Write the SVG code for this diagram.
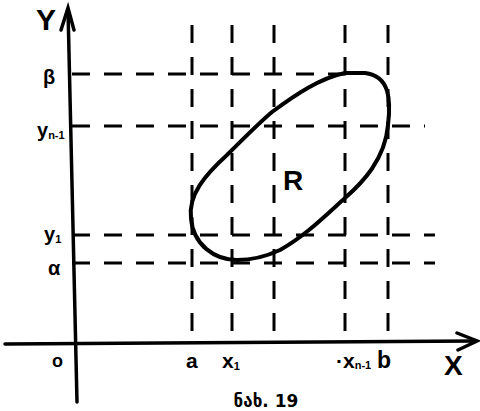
<svg xmlns="http://www.w3.org/2000/svg" width="480" height="411" viewBox="0 0 480 411">
<style>
.dash{stroke:#000;stroke-width:3;stroke-dasharray:18 14;fill:none}
.axis{stroke:#000;stroke-width:3.5;fill:none;stroke-linecap:round}
.lbl{font-family:"Liberation Sans",Arial,sans-serif;font-weight:bold;fill:#000}
.sub{font-family:"Liberation Sans",Arial,sans-serif;font-weight:bold;fill:#000;font-size:11px}
</style>
<rect width="480" height="411" fill="#fff"/>
<g id="grid">
<line class="dash" x1="192" y1="25" x2="192" y2="342"/>
<line class="dash" x1="232" y1="25" x2="232" y2="342"/>
<line class="dash" x1="274" y1="25" x2="274" y2="342"/>
<line class="dash" x1="345" y1="25" x2="345" y2="342"/>
<line class="dash" x1="388" y1="25" x2="388" y2="342"/>
<line class="dash" x1="72" y1="74" x2="352" y2="74"/>
<line class="dash" x1="72" y1="126" x2="425" y2="126"/>
<line class="dash" x1="72" y1="235" x2="435" y2="235"/>
<line class="dash" x1="72" y1="263" x2="435" y2="263"/>
</g>
<g id="axes">
<line class="axis" x1="77" y1="402" x2="68" y2="9"/>
<polyline class="axis" points="61,30 68,8 74,30"/>
<line class="axis" x1="5" y1="344" x2="474" y2="341"/>
<polyline class="axis" points="457,333 477,341 458,350"/>
</g>
<g id="region-R">
<path d="M191,218 C188,195 205,175 227,155 C245,137 260,122 272,112 C295,95 320,78 345,73 L365,73 C390,76 391,100 388,125 C385,160 362,183 345,198 C325,216 305,236 280,250 C265,257 250,260 237,260 C215,260 193,245 191,218 Z" fill="none" stroke="#000" stroke-width="4"/>
<text class="lbl" x="283" y="190" font-size="28">R</text>
</g>
<g id="labels">
<text class="lbl" x="36" y="30" font-size="30">Y</text>
<text class="lbl" x="43" y="84" font-size="20">β</text>
<text class="lbl" x="37" y="137" font-size="20">y<tspan class="sub" dy="2">n-1</tspan></text>
<text class="lbl" x="44" y="241" font-size="20">y<tspan class="sub" dy="2">1</tspan></text>
<text class="lbl" x="48" y="275" font-size="20">α</text>
<text class="lbl" x="52" y="367" font-size="18">o</text>
<text class="lbl" x="186" y="368" font-size="21">a</text>
<text class="lbl" x="222" y="368" font-size="21">x<tspan class="sub" dy="2">1</tspan></text>
<text class="lbl" x="336" y="368" font-size="21">·x<tspan class="sub" dy="1">n-1</tspan></text>
<text class="lbl" x="377" y="368" font-size="23">b</text>
<text class="lbl" x="444" y="375" font-size="28">X</text>
<text x="266" y="407" font-family="DejaVu Sans,sans-serif" font-weight="bold" font-size="17" text-anchor="middle" fill="#000">ნახ. 19</text>
</g>
</svg>
